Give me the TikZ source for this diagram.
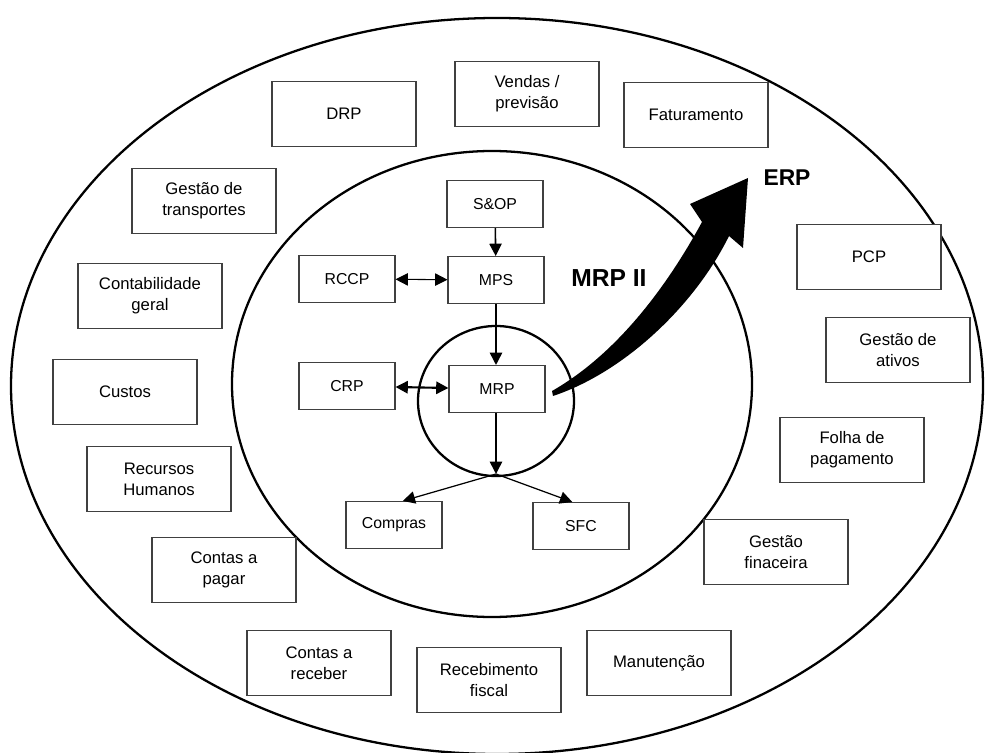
\documentclass[tikz,border=0pt]{standalone}
\usepackage{fontspec}
\setmainfont{Liberation Sans}
\usetikzlibrary{arrows.meta}

\begin{document}
\begin{tikzpicture}[x=0.02cm, y=-0.02cm]
  \tikzstyle{box} = [draw=black!75, line width=0.6pt, fill=white, align=center, inner sep=0pt]
  \tikzstyle{outerBox} = [box, minimum width=2.88cm, minimum height=1.3cm, font=\fontsize{9.5}{11.8}\selectfont]
  \tikzstyle{innerBox} = [box, minimum width=1.92cm, minimum height=0.94cm, font=\fontsize{9}{11}\selectfont]
  \tikzstyle{ring} = [line width=1.3pt]
  \tikzstyle{flow} = [-{Triangle[length=7pt, width=7pt]}, line width=0.9pt]
  \tikzstyle{link} = [{Triangle[length=7pt, width=7pt]}-{Triangle[length=7pt, width=7pt]}, line width=0.6pt]

  \useasboundingbox (0,0) rectangle (988,753);

  % Draw rings
  \draw[ring] (497,386) ellipse [x radius=486, y radius=368];
  \draw[ring] (492,384) ellipse [x radius=260, y radius=233];
  \draw[ring] (496,401) ellipse [x radius=78, y radius=75];

  % Draw ERP modules
  \foreach \name/\x/\y/\label in {
      drp/344/114/DRP, vendas/527/94/{Vendas /\\previsão}, fatur/696/115/Faturamento,
      transp/204/201/{Gestão de\\transportes}, contab/150/296/{Contabilidade\\geral},
      custos/125/392/Custos, rh/159/479/{Recursos\\Humanos}, pagar/224/570/{Contas a\\pagar},
      receber/319/663/{Contas a\\receber}, fiscal/489/680/{Recebimento\\fiscal},
      manut/659/663/Manutenção, financ/776/552/{Gestão\\finaceira},
      folha/852/450/{Folha de\\pagamento}, ativos/898/350/{Gestão de\\ativos}, pcp/869/257/PCP}
    \node[outerBox] (\name) at (\x,\y) {\label};

  % Draw MRP II modules
  \node[innerBox] (sop) at (495,204) {S\&OP};
  \node[innerBox] (mps) at (496,280) {MPS};
  \node[innerBox] (rccp) at (347,279) {RCCP};
  \node[innerBox] (crp) at (347,386) {CRP};
  \node[innerBox] (mrp) at (497,389) {MRP};
  \node[innerBox] (compras) at (394,525) {Compras};
  \node[innerBox] (sfc) at (581,526) {SFC};
  \coordinate (split) at (496,474);

  % Labels
  \node[font=\bfseries\fontsize{14}{16}\selectfont] (mrpii) at (609,278) {MRP II};
  \node[font=\bfseries\fontsize{13}{15}\selectfont] (erp) at (787,178) {ERP};

  % Connections
  \draw[flow] (sop) -- (mps);
  \draw[flow] (mps.south) -- (mps.south |- mrp.north);
  \draw[link] (rccp) -- (mps);
  \draw[link, line width=1.2pt] (crp) -- (mrp);
  \draw[flow] (mrp.south -| split) -- (split);
  \draw[flow, line width=0.7pt] (split) -- (compras.70);
  \draw[flow, line width=0.7pt] (split) -- (sfc.110);

  % ERP arrow
  \fill (552,391) .. controls (615,355) and (665,290) .. (702,222) -- (690,204) -- (748,178)
    -- (743,248) -- (729,236) .. controls (695,305) and (625,372) .. (553,396) -- cycle;

\end{tikzpicture}
\end{document}
